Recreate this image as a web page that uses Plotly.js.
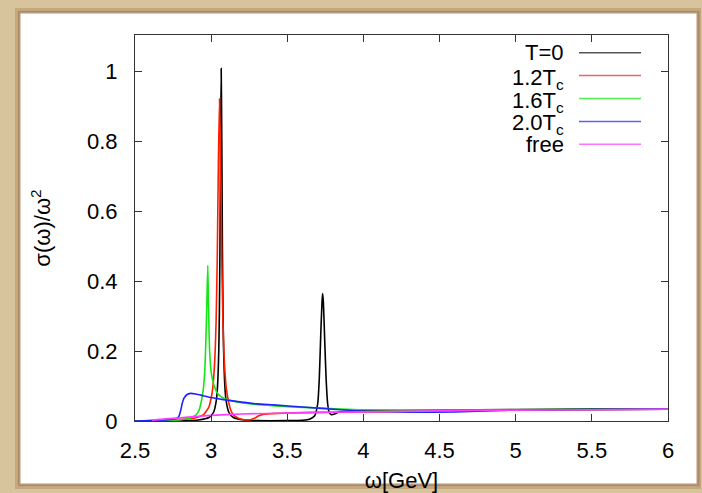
<!DOCTYPE html>
<html>
<head>
<meta charset="utf-8">
<script src="https://cdn.plot.ly/plotly-3.0.1.min.js"></script>
<style>html,body{margin:0;padding:0;background:#d8c49c;}#chart{width:702px;height:493px;}</style>
</head>
<body>
<div id="chart"></div>
<script>
// ---- data ----
var seriesNames = ["T=0", "1.2T<sub>c</sub>", "1.6T<sub>c</sub>", "2.0T<sub>c</sub>", "free"];

var xT0 = [2.5, 2.7, 2.8, 2.916, 2.986, 3.016, 3.034, 3.042, 3.05, 3.054, 3.058, 3.062, 3.066, 3.07, 3.074, 3.078, 3.082, 3.09, 3.098, 3.116, 3.146, 3.216, 3.3, 3.5, 3.6, 3.65, 3.68, 3.70, 3.71, 3.72, 3.728, 3.732, 3.737, 3.745, 3.755, 3.765, 3.775, 3.79, 3.81, 3.84, 3.9, 4.0, 4.5, 5.0, 5.5, 6.0];
var yT0 = [0.000, 0.000, 0.001, 0.003, 0.010, 0.025, 0.059, 0.10, 0.20, 0.31, 0.50, 0.80, 1.007, 0.80, 0.50, 0.31, 0.20, 0.10, 0.059, 0.025, 0.010, 0.003, 0.001, 0.001, 0.002, 0.006, 0.015, 0.05, 0.12, 0.25, 0.34, 0.364, 0.34, 0.24, 0.12, 0.05, 0.025, 0.018, 0.020, 0.026, 0.028, 0.029, 0.031, 0.033, 0.034, 0.035];

var x12 = [2.5, 2.7, 2.8, 2.9, 2.95, 2.985, 3.0, 3.01, 3.025, 3.0325, 3.04, 3.0475, 3.055, 3.0625, 3.07, 3.0775, 3.085, 3.10, 3.115, 3.13, 3.145, 3.17, 3.2, 3.23, 3.25, 3.28, 3.31, 3.34, 3.4, 3.6, 3.8, 4.0, 4.5, 5.0, 5.5, 6.0];
var y12 = [0.000, 0.002, 0.004, 0.009, 0.018, 0.040, 0.065, 0.092, 0.184, 0.283, 0.46, 0.737, 0.921, 0.737, 0.46, 0.283, 0.184, 0.092, 0.054, 0.030, 0.018, 0.010, 0.005, 0.003, 0.003, 0.007, 0.014, 0.019, 0.021, 0.024, 0.025, 0.026, 0.029, 0.031, 0.032, 0.034];

var x16 = [2.5, 2.7, 2.8, 2.853, 2.897, 2.92, 2.935, 2.945, 2.952, 2.96, 2.966, 2.972, 2.978, 2.982, 2.986, 2.99, 3.0, 3.017, 3.04, 3.07, 3.1, 3.2, 3.3, 3.4, 3.5, 3.7, 4.0, 4.5, 5.0, 5.5, 6.0];
var y16 = [0.000, 0.002, 0.004, 0.007, 0.016, 0.030, 0.055, 0.080, 0.105, 0.16, 0.24, 0.34, 0.445, 0.34, 0.26, 0.20, 0.14, 0.105, 0.080, 0.068, 0.062, 0.052, 0.047, 0.044, 0.041, 0.037, 0.032, 0.031, 0.032, 0.033, 0.034];

var x20 = [2.5, 2.6, 2.7, 2.75, 2.775, 2.787, 2.80, 2.81, 2.82, 2.84, 2.864, 2.9, 2.95, 3.0, 3.08, 3.2, 3.3, 3.41, 3.6, 3.85, 4.0, 4.3, 4.6, 4.8, 5.0, 5.5, 6.0];
var y20 = [0.000, 0.001, 0.003, 0.005, 0.008, 0.012, 0.030, 0.050, 0.064, 0.075, 0.079, 0.077, 0.072, 0.067, 0.061, 0.054, 0.049, 0.046, 0.040, 0.032, 0.028, 0.025, 0.026, 0.029, 0.031, 0.033, 0.034];

var xFree = [2.612, 2.7, 2.8, 2.9, 3.0, 3.2, 3.5, 3.8, 4.0, 4.5, 5.0, 5.5, 6.0];
var yFree = [0.002, 0.006, 0.009, 0.013, 0.016, 0.020, 0.023, 0.025, 0.026, 0.029, 0.031, 0.032, 0.034];

var xTickVals = [2.5, 3, 3.5, 4, 4.5, 5, 5.5, 6];
var xTickText = ["2.5", "3", "3.5", "4", "4.5", "5", "5.5", "6"];
var yTickVals = [0, 0.2, 0.4, 0.6, 0.8, 1];
var yTickText = ["0", "0.2", "0.4", "0.6", "0.8", "1"];

// ---- styles ----
var lineColors = ["#000000", "#ff1e00", "#14e614", "#2222ff", "#ff3cff"];
var legendColors = ["#555555", "#f26262", "#52f052", "#6262f2", "#ff72ff"];
var FONT = "Liberation Sans, Arial, sans-serif";

var xs = [xT0, x12, x16, x20, xFree];
var ys = [yT0, y12, y16, y20, yFree];

var traces = [];
for (var i = 0; i < xs.length; i++) {
  traces.push({
    x: xs[i], y: ys[i], type: "scatter", mode: "lines",
    name: seriesNames[i], line: {color: lineColors[i], width: 1.6, shape: "spline", smoothing: 0.5},
    showlegend: false, hoverinfo: "skip"
  });
}

// plot area in pixels: left 135, right 668, top 35, bottom 421
var PW = 533, PH = 386, L = 135, T = 35;
function px2x(p) { return (p - L) / PW; }
function py2y(p) { return (T + PH - p) / PH; }

var shapes = [
  {type: "rect", xref: "paper", yref: "paper", x0: px2x(19), x1: px2x(698), y0: py2y(485), y1: py2y(12),
   fillcolor: "#ffffff", line: {color: "rgba(160,118,78,0.75)", width: 3}, layer: "below"},
  {type: "rect", xref: "paper", yref: "paper", x0: px2x(16), x1: px2x(700), y0: py2y(488), y1: py2y(9),
   fillcolor: "rgba(0,0,0,0)", line: {color: "rgba(175,140,95,0.5)", width: 2}, layer: "below"}
];
var annotations = [];
var rowY0 = 52.7, rowStep = 22.9;
for (var j = 0; j < seriesNames.length; j++) {
  var py = rowY0 + j * rowStep;
  shapes.push({type: "line", xref: "paper", yref: "paper", x0: px2x(579), x1: px2x(641), y0: py2y(py), y1: py2y(py),
    line: {color: legendColors[j], width: 1.5}});
  var hasSub = seriesNames[j].indexOf("<sub>") >= 0;
  annotations.push({xref: "paper", yref: "paper", x: px2x(566), y: py2y(py), xanchor: "right", yanchor: "middle",
    yshift: hasSub ? -3 : 0, text: seriesNames[j], showarrow: false, font: {family: FONT, size: 22, color: "#000"}});
}

var layout = {
  width: 702, height: 493,
  margin: {l: 135, r: 34, t: 35, b: 72, pad: 0},
  paper_bgcolor: "#d8c49c", plot_bgcolor: "#ffffff",
  showlegend: false,
  font: {family: FONT, size: 22, color: "#000"},
  xaxis: {
    range: [2.5, 6], tickvals: xTickVals, ticktext: xTickText,
    ticks: "inside", ticklen: 7, tickcolor: "#333", tickwidth: 1,
    showline: true, linecolor: "#333", linewidth: 1, mirror: "ticks",
    showgrid: false, zeroline: false, ticklabelstandoff: 10,
    tickfont: {family: FONT, size: 22, color: "#000"},
    title: {text: "ω[GeV]", font: {family: FONT, size: 22, color: "#000"}, standoff: 12}
  },
  yaxis: {
    range: [0, 1.103], tickvals: yTickVals, ticktext: yTickText,
    ticks: "inside", ticklen: 7, tickcolor: "#333", tickwidth: 1,
    showline: true, linecolor: "#333", linewidth: 1, mirror: "ticks",
    showgrid: false, zeroline: false, ticklabelstandoff: 12,
    tickfont: {family: FONT, size: 22, color: "#000"},
    title: {text: "σ(ω)/ω<sup>2</sup>", font: {family: FONT, size: 22, color: "#000"}, standoff: 30}
  },
  shapes: shapes,
  annotations: annotations
};

Plotly.newPlot("chart", traces, layout, {staticPlot: true, displayModeBar: false});
</script>
</body>
</html>
